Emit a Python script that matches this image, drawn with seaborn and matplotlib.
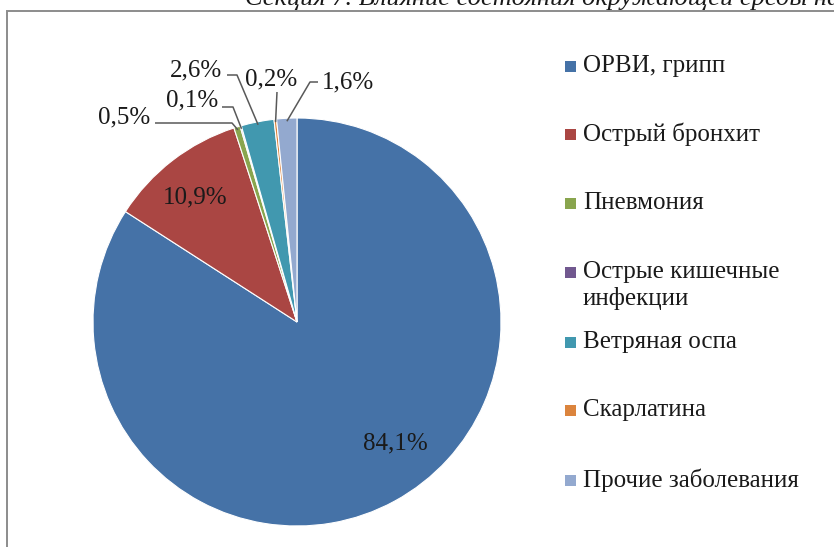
import numpy as np
import matplotlib
matplotlib.use("Agg")
import matplotlib.pyplot as plt
import seaborn as sns
from matplotlib.patches import Rectangle

# Structure of morbidity, percent of all cases
categories = [
    "ОРВИ, грипп",
    "Острый бронхит",
    "Пневмония",
    "Острые кишечные\nинфекции",
    "Ветряная оспа",
    "Скарлатина",
    "Прочие заболевания",
]
shares = [84.1, 10.9, 0.5, 0.1, 2.6, 0.2, 1.6]
slice_colors = ["#4572A7", "#AA4643", "#89A54E", "#71588F",
                "#4198AF", "#DB843D", "#93A9CF"]
header = "Секция 7. Влияние состояния окружающей среды на"

sns.set_theme(style="white")
plt.rcParams["font.family"] = ["Liberation Serif", "DejaVu Serif"]
palette = sns.color_palette(slice_colors)

W, H = 834, 547
fig = plt.figure(figsize=(W / 100, H / 100), dpi=100)
ax = fig.add_axes([0, 0, 1, 1])


def Y(y):
    """Convert a top-down pixel row into the axes' bottom-up coordinate."""
    return H - y


cx, cy, R = 297, 322, 204
wedges, _ = ax.pie(
    shares, colors=palette, startangle=90, counterclock=False,
    center=(cx, Y(cy)), radius=R, frame=True,
    wedgeprops=dict(edgecolor="white", linewidth=0.8),
)
ax.set_xlim(0, W)
ax.set_ylim(0, H)
ax.set_aspect("equal")
ax.axis("off")


def pct(v):
    return f"{v:.1f}%".replace(".", ",")


FS = 18
TXT = "#1a1a1a"

# labels placed inside the two large slices
inside = {0: (395, 443), 1: (195, 197)}
for i, (x, y) in inside.items():
    ax.text(x, Y(y), pct(shares[i]), fontsize=FS, ha="center", va="center",
            color=TXT)

# labels for small slices with leader lines: text centre, line start, elbow
outside = {
    2: ((124, 117), (155, 123), (232, 123)),
    3: ((192, 100), (222, 107), (233, 107)),
    4: ((196, 70), (227, 75), (237, 75)),
    5: ((271, 79), (277, 92), (277, 92)),
    6: ((348, 82), (318, 82), (310, 82)),
}
for i, (tpos, start, elbow) in outside.items():
    w = wedges[i]
    mid = np.deg2rad((w.theta1 + w.theta2) / 2)
    ex = cx + (R - 3) * np.cos(mid)
    ey = Y(cy) + (R - 3) * np.sin(mid)
    ax.plot([start[0], elbow[0], ex], [Y(start[1]), Y(elbow[1]), ey],
            color="#595959", lw=1.1, solid_capstyle="butt")
    ax.text(tpos[0], Y(tpos[1]), pct(shares[i]), fontsize=FS,
            ha="center", va="center", color=TXT)

# legend: colour square followed by the category name
rows = [66, 134, 203, 272, 342, 410, 480]
for i, (lab, y) in enumerate(zip(categories, rows)):
    ax.add_patch(Rectangle((565, Y(y) - 5.5), 11, 11,
                           facecolor=palette[i], edgecolor="none"))
    for k, line in enumerate(lab.split("\n")):
        ax.text(583, Y(y + 27 * k), line, fontsize=FS, ha="left",
                va="center", color=TXT)

# frame around the chart area and the running header above it
ax.plot([7.5, 7.5, W + 5], [-5, Y(10.5), Y(10.5)], color="#8c8c8c",
        lw=1.4, solid_joinstyle="miter", clip_on=False)
ax.text(245, Y(5), header, fontsize=19, style="italic", ha="left",
        va="baseline", color=TXT)

fig.savefig("out.png", dpi=100)
